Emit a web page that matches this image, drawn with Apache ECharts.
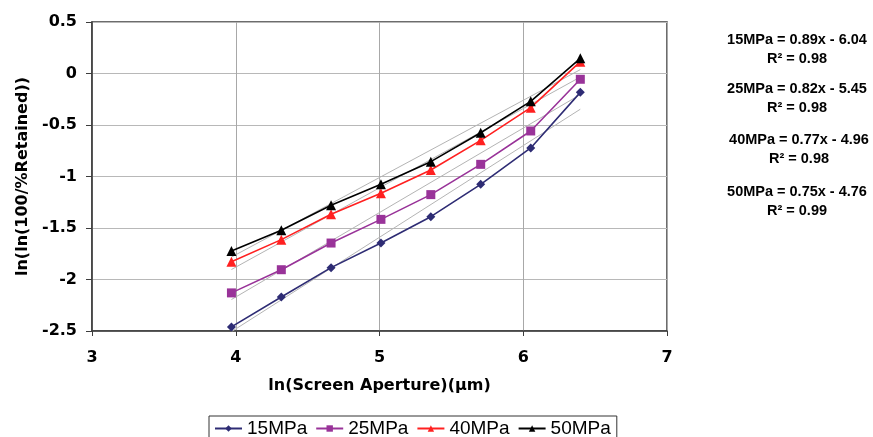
<!DOCTYPE html>
<html>
<head>
<meta charset="utf-8">
<script src="https://cdn.jsdelivr.net/npm/echarts@6/dist/echarts.min.js"></script>
<style>
html,body{margin:0;padding:0;background:#fff;}
#chart{width:873px;height:437px;}
</style>
</head>
<body>
<div id="chart"></div>
<script>
// ---- data ----
var xLnAperture = [3.97, 4.317, 4.663, 5.01, 5.357, 5.704, 6.052, 6.397];
var seriesNames = ['15MPa', '25MPa', '40MPa', '50MPa'];
var y15 = [-2.46, -2.17, -1.885, -1.646, -1.39, -1.076, -0.723, -0.183];
var y25 = [-2.13, -1.905, -1.646, -1.416, -1.176, -0.882, -0.558, -0.056];
var y40 = [-1.827, -1.613, -1.367, -1.163, -0.937, -0.649, -0.332, 0.115];
var y50 = [-1.723, -1.522, -1.28, -1.076, -0.856, -0.575, -0.27, 0.147];
var trendSlopes = [0.89, 0.82, 0.77, 0.75];
var trendIntercepts = [-6.04, -5.45, -4.96, -4.76];
var r2Values = ['0.98', '0.98', '0.98', '0.99'];
var eqTexts = ['15MPa = 0.89x - 6.04', '25MPa = 0.82x - 5.45', '40MPa = 0.77x - 4.96', '50MPa = 0.75x - 4.76'];

var colors = ['#2E2C74', '#993399', '#FF2020', '#000000'];
var symbols = ['diamond', 'rect', 'triangle', 'triangle'];
var symbolSizes = [9, 9, 10, 10];
var allY = [y15, y25, y40, y50];

var chart = echarts.init(document.getElementById('chart'));
var series = [];
// trendlines (thin gray) drawn first
for (var i = 0; i < 4; i++) {
  var x0 = xLnAperture[0], x1 = xLnAperture[xLnAperture.length - 1];
  series.push({
    type: 'line',
    name: 'trend' + i,
    data: [[x0, trendSlopes[i] * x0 + trendIntercepts[i]], [x1, trendSlopes[i] * x1 + trendIntercepts[i]]],
    showSymbol: false,
    symbol: 'none',
    lineStyle: {color: '#b4b4b4', width: 1},
    z: 1,
    silent: true
  });
}
for (var k = 0; k < 4; k++) {
  series.push({
    type: 'line',
    name: seriesNames[k],
    data: xLnAperture.map(function (x, j) { return [x, allY[k][j]]; }),
    symbol: symbols[k],
    symbolSize: symbolSizes[k],
    showAllSymbol: true,
    itemStyle: {color: colors[k]},
    lineStyle: {color: colors[k], width: 1.6},
    z: 3
  });
}

var graphics = [];
var eqY = [40, 89, 140, 192];
var eqX = [797, 797, 799, 797];
var fnt = 'bold 14.5px "Liberation Sans", Arial, sans-serif';
for (var m = 0; m < 4; m++) {
  graphics.push({
    type: 'text', x: eqX[m], y: eqY[m],
    style: {text: eqTexts[m], fill: '#000', font: fnt, textAlign: 'center', textVerticalAlign: 'middle'}
  });
  graphics.push({
    type: 'text', x: eqX[m], y: eqY[m] + 19,
    style: {text: 'R\u00B2 = ' + r2Values[m], fill: '#000', font: fnt, textAlign: 'center', textVerticalAlign: 'middle'}
  });
}

chart.setOption({
  animation: false,
  backgroundColor: '#fff',
  grid: {left: 92, right: 206, top: 22, bottom: 106, show: true, borderColor: '#3c3c3c', borderWidth: 1.5},
  xAxis: {
    type: 'value', min: 3, max: 7, interval: 1,
    name: 'ln(Screen Aperture)(\u00B5m)', nameLocation: 'middle', nameGap: 47,
    nameTextStyle: {fontFamily: 'DejaVu Sans', fontWeight: 'bold', fontSize: 16, color: '#000'},
    axisLine: {onZero: false, lineStyle: {color: '#3c3c3c', width: 1.5}},
    axisTick: {show: true, length: 5, lineStyle: {color: '#3c3c3c'}},
    axisLabel: {fontFamily: 'DejaVu Sans', fontWeight: 'bold', fontSize: 16, color: '#000', margin: 19},
    splitLine: {show: true, lineStyle: {color: '#a8a8a8', width: 1}}
  },
  yAxis: {
    type: 'value', min: -2.5, max: 0.5, interval: 0.5,
    name: 'ln(ln(100/%Retained))', nameLocation: 'middle', nameGap: 61, nameRotate: 90,
    nameTextStyle: {fontFamily: 'DejaVu Sans', fontWeight: 'bold', fontSize: 16, color: '#000'},
    axisLine: {show: true, onZero: false, lineStyle: {color: '#3c3c3c', width: 1.5}},
    axisTick: {show: true, length: 6, lineStyle: {color: '#3c3c3c'}},
    axisLabel: {fontFamily: 'DejaVu Sans', fontWeight: 'bold', fontSize: 16, color: '#000', margin: 15},
    splitLine: {show: true, lineStyle: {color: '#b8b8b8', width: 1}}
  },
  legend: {
    data: seriesNames,
    left: 209, top: 416,
    orient: 'horizontal',
    itemWidth: 27, itemHeight: 8, itemGap: 8,
    padding: [3, 6, 6, 5],
    borderColor: '#333', borderWidth: 1,
    textStyle: {fontFamily: '"Liberation Sans", Arial, sans-serif', fontSize: 19, color: '#000'}
  },
  graphic: graphics,
  series: series
});
</script>
</body>
</html>
